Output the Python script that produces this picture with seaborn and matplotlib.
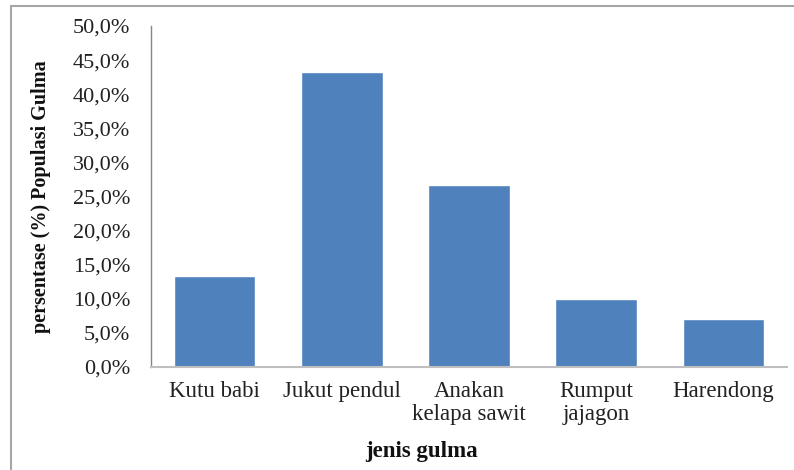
import pandas as pd
import seaborn as sns
import matplotlib.pyplot as plt
import matplotlib.ticker as mticker
from matplotlib.patches import Rectangle

# data
jenis = ['Kutu babi', 'Jukut pendul', 'Anakan\nkelapa sawit', 'Rumput\njajagon', 'Harendong']
persen = [13.3, 43.3, 26.7, 10.0, 7.0]
yticks = [0, 5, 10, 15, 20, 25, 30, 35, 40, 45, 50]

df = pd.DataFrame({'jenis': jenis, 'persen': persen})

sns.set_style('white')
plt.rcParams['font.family'] = ['Liberation Serif', 'DejaVu Serif']

fig = plt.figure(figsize=(7.94, 4.70), dpi=100)
ax = fig.add_axes([151 / 794, 1 - 367 / 470, 636 / 794, 341 / 470])

sns.barplot(data=df, x='jenis', y='persen', color='#4F81BD', saturation=1,
            width=0.64, ax=ax)

ax.set_ylim(0, 50)
ax.set_yticks(yticks)
ax.yaxis.set_major_formatter(mticker.FuncFormatter(lambda y, _: f'{y:.1f}%'.replace('.', ',')))
ax.tick_params(axis='y', length=0, pad=15, labelsize=16, labelcolor='#222222')
ax.tick_params(axis='x', length=0, pad=10, labelsize=16.5, labelcolor='#222222')
for lab in ax.get_xticklabels():
    lab.set_linespacing(1.15)
    lab.set_verticalalignment('top')

ax.set_xlabel('jenis gulma', fontsize=16.5, fontweight='bold', color='#111111')
ax.set_ylabel('persentase (%) Populasi Gulma', fontsize=14.5, fontweight='bold', color='#111111')
ax.xaxis.set_label_coords(0.425, -0.218)
ax.yaxis.set_label_coords(-0.158, 0.5)

for side in ['top', 'right']:
    ax.spines[side].set_visible(False)
ax.spines['left'].set_color('#868686')
ax.spines['bottom'].set_color('#BFBFBF')
ax.spines['left'].set_linewidth(1.0)
ax.spines['bottom'].set_linewidth(1.5)

# outer chart frame (cut at right and bottom in the reference)
fig.patches.append(Rectangle((11 / 794, -0.05), 1.0, 1 - 6 / 470 + 0.05,
                             transform=fig.transFigure, fill=False,
                             edgecolor='#A6A6A6', linewidth=1.5))

fig.savefig('out.png', dpi=100)
